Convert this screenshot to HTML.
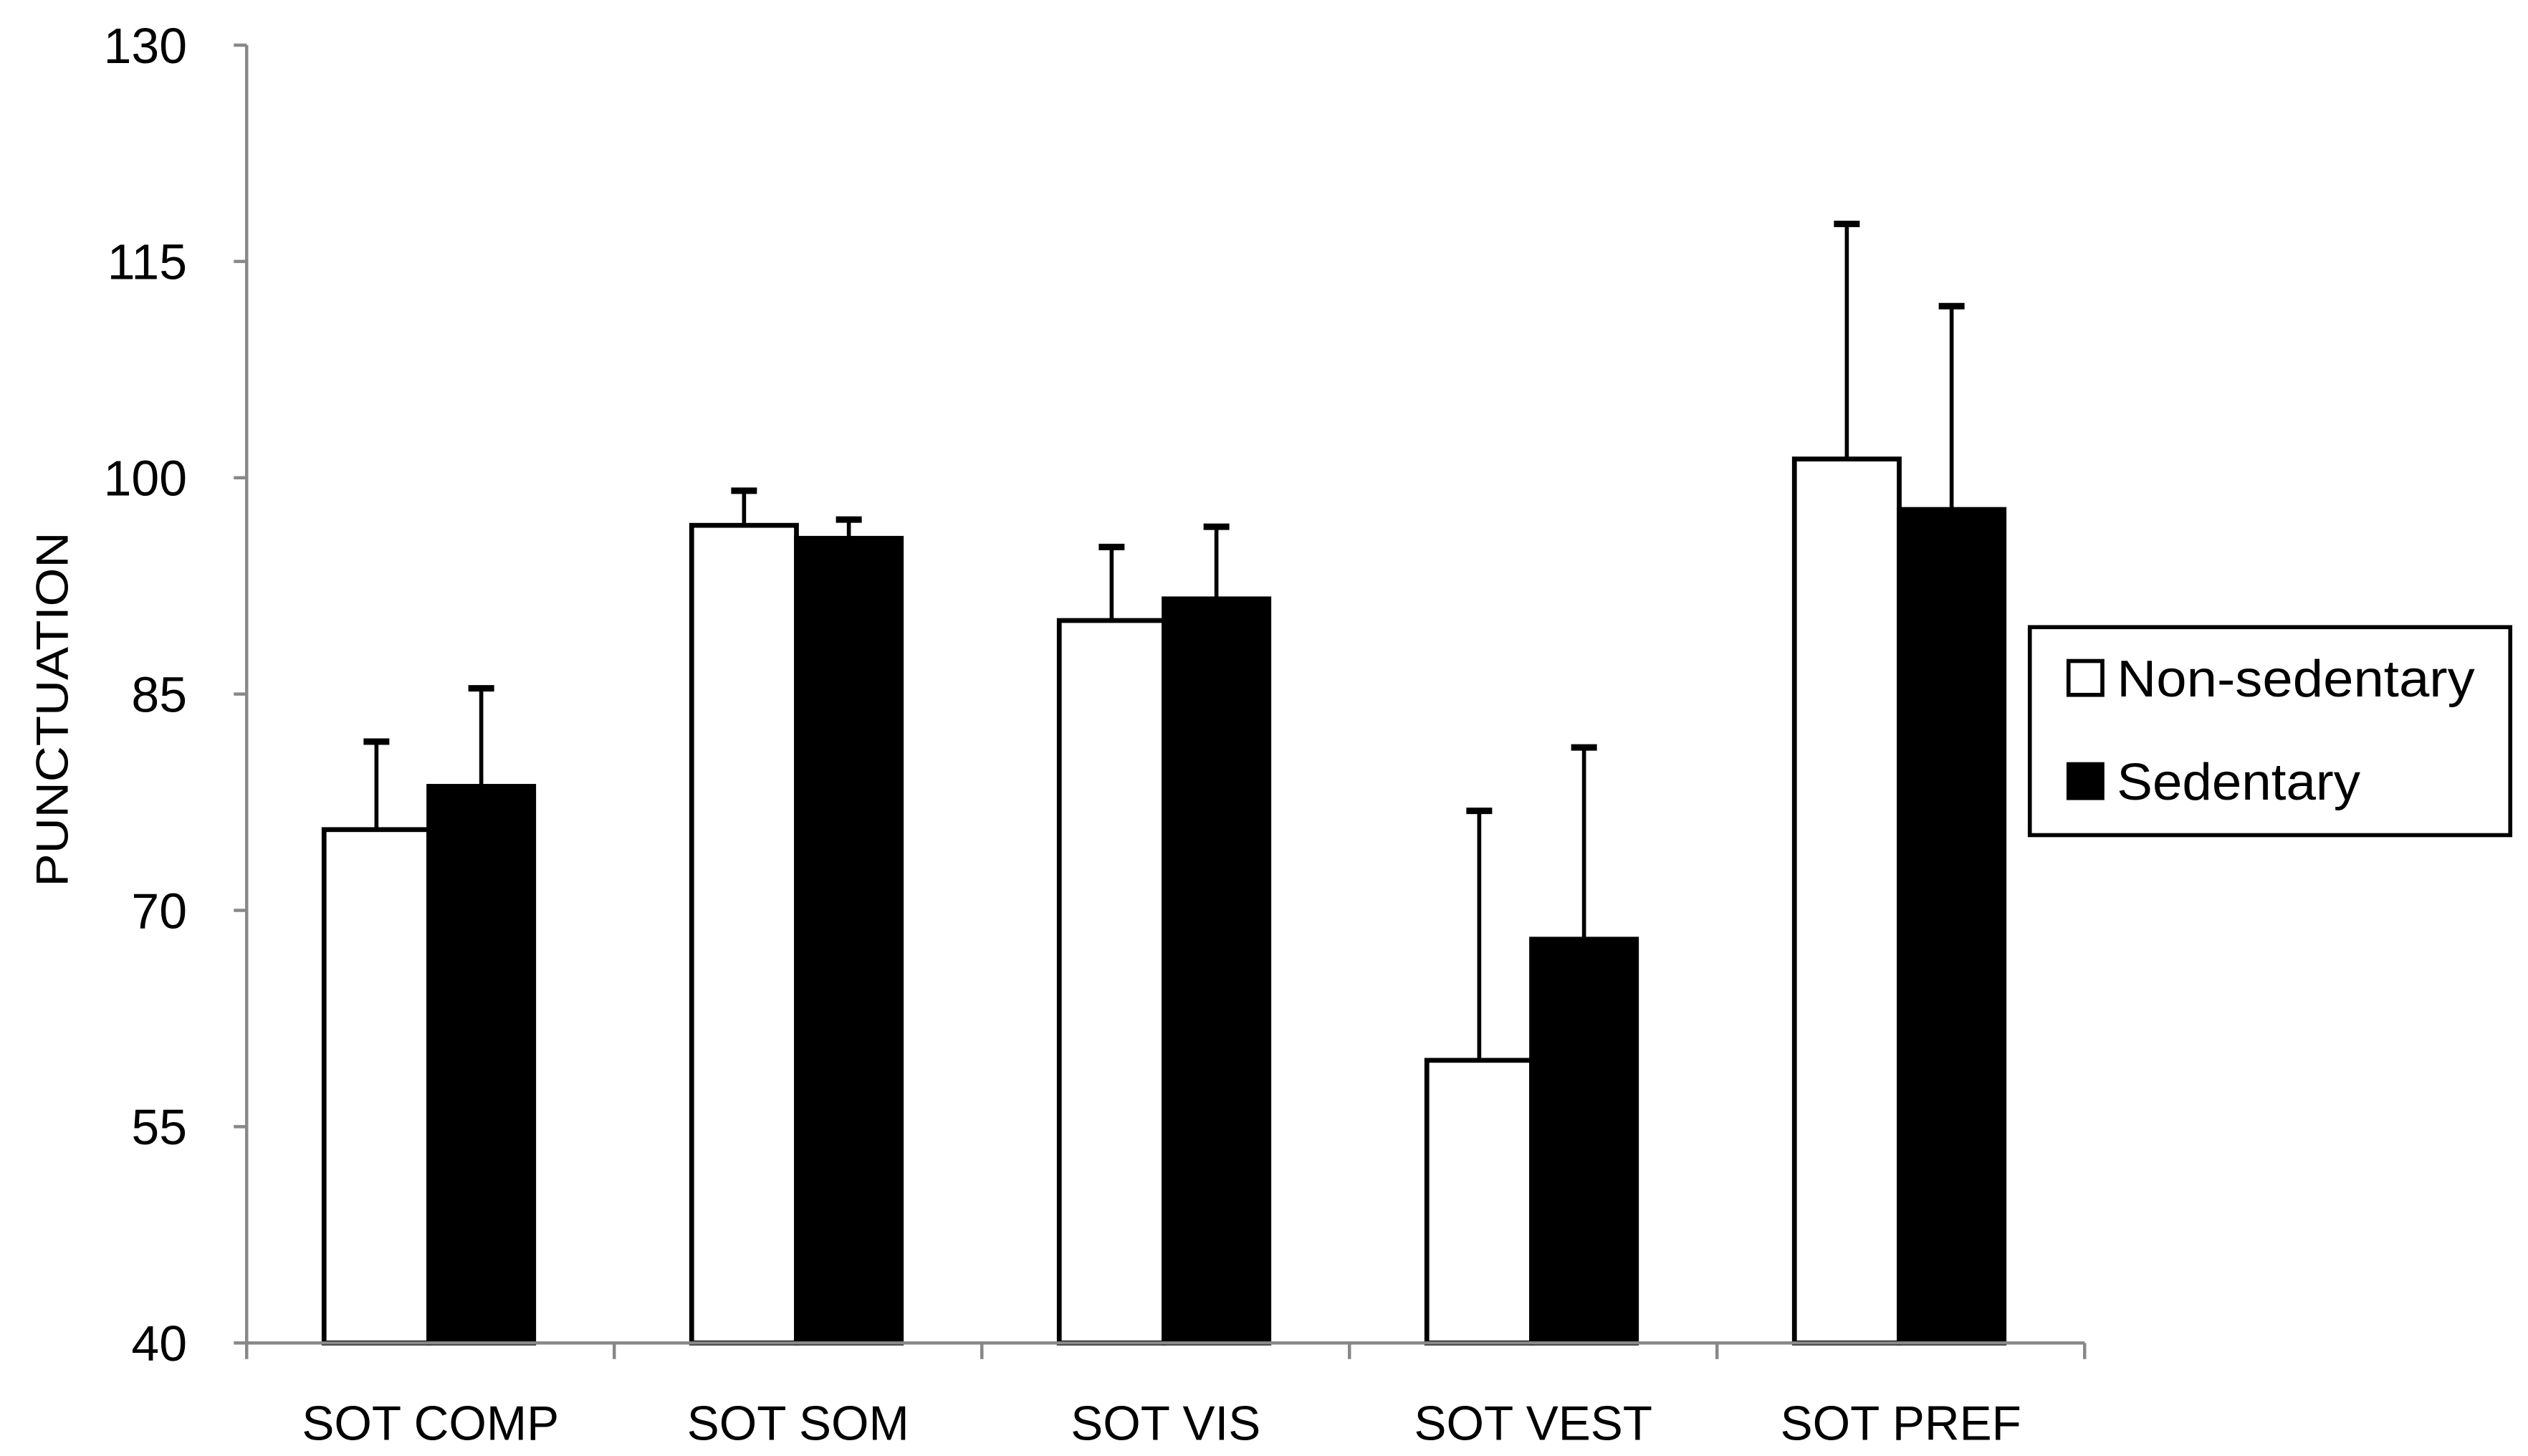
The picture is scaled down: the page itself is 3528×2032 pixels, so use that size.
<!DOCTYPE html>
<html><head><meta charset="utf-8"><style>
html,body{margin:0;padding:0;background:#fff;}
svg{display:block;}
text{font-family:"Liberation Sans",sans-serif;fill:#000;}
</style></head><body>
<svg id="chart" width="3528" height="2032" viewBox="0 0 1568 903.11" xmlns="http://www.w3.org/2000/svg">
<rect x="0" y="0" width="1568" height="903.11" fill="#fff"/>
<g id="plot"></g>
<text x="42" y="440" font-size="28" text-anchor="middle" textLength="220" lengthAdjust="spacingAndGlyphs" transform="rotate(-90 42 440)">PUNCTUATION</text>
<g>
<rect x="1259" y="389" width="298" height="129" fill="#fff" stroke="#000" stroke-width="2.5"/>
<g>
<rect x="1283" y="410" width="21" height="21" fill="#fff" stroke="#000" stroke-width="2.5"/>
<text x="1313" y="432" font-size="32" textLength="222" lengthAdjust="spacingAndGlyphs">Non-sedentary</text>
</g>
<g>
<rect x="1283" y="474" width="21" height="21" fill="#000" stroke="#000" stroke-width="2.5"/>
<text x="1313" y="496" font-size="32" textLength="151" lengthAdjust="spacingAndGlyphs">Sedentary</text>
</g>
</g>
</svg>
<script>
const categories = ["SOT COMP","SOT SOM","SOT VIS","SOT VEST","SOT PREF"];
const nonSedentary = [75.6, 96.7, 90.1, 59.6, 101.3];
const nonSedentaryErr = [6.1, 2.4, 5.1, 17.3, 16.3];
const sedentary = [78.6, 95.8, 91.6, 68.0, 97.8];
const sedentaryErr = [6.8, 1.3, 5.0, 13.3, 14.1];
const yTicks = [40, 55, 70, 85, 100, 115, 130];

const NS = "http://www.w3.org/2000/svg";
const plot = document.getElementById('plot');
const X0 = 153, X1 = 1293, Y0 = 833, Y1 = 28, YMIN = 40, YMAX = 130;
const y = v => Y0 - (v - YMIN) / (YMAX - YMIN) * (Y0 - Y1);
const band = (X1 - X0) / categories.length;
const xc = i => X0 + band * (i + 0.5);
function mk(tag, attrs) {
  const e = document.createElementNS(NS, tag);
  for (const k in attrs) e.setAttribute(k, attrs[k]);
  plot.appendChild(e);
  return e;
}
let ax = mk('line', {x1: X0, y1: Y1, x2: X0, y2: Y0, stroke: '#888', 'stroke-width': 2});


yTicks.forEach(t => {
  const tk = mk('line', {x1: X0 - 8, y1: y(t), x2: X0, y2: y(t), stroke: '#888', 'stroke-width': 2});
  
  
  const lb = mk('text', {x: 116, y: y(t) + 11, 'font-size': 31, 'text-anchor': 'end'});
  lb.textContent = t;
  
  
});
categories.forEach((c, i) => {
  const bw = 65;
  const cx = xc(i);
  const series = [
    {v: nonSedentary[i], e: nonSedentaryErr[i], fill: '#fff', x: cx - 1 - bw, name: 'bar-non-sedentary'},
    {v: sedentary[i], e: sedentaryErr[i], fill: '#000', x: cx - 1, name: 'bar-sedentary'}
  ];
  series.forEach(s => {
    const mx = s.x + bw / 2;
    const el = mk('line', {x1: mx, y1: y(s.v), x2: mx, y2: y(s.v + s.e), stroke: '#000', 'stroke-width': 2.5});
    
    
    const cap = mk('line', {x1: mx - 8, y1: y(s.v + s.e), x2: mx + 8, y2: y(s.v + s.e), stroke: '#000', 'stroke-width': 4});
    
    
    const r = mk('rect', {x: s.x, y: y(s.v), width: bw, height: Y0 - y(s.v), fill: s.fill, stroke: '#000', 'stroke-width': 3});
    
    
  });
  const lb = mk('text', {x: cx, y: 893, 'font-size': 30, 'text-anchor': 'middle'});
  lb.textContent = c;
  
  
});
for (let i = 0; i <= categories.length; i++) {
  const tk = mk('line', {x1: X0 + band * i, y1: Y0, x2: X0 + band * i, y2: Y0 + 10, stroke: '#888', 'stroke-width': 2});
  
  
}
let xa = mk('line', {x1: X0, y1: Y0, x2: X1, y2: Y0, stroke: '#888', 'stroke-width': 2});


</script>
</body></html>
